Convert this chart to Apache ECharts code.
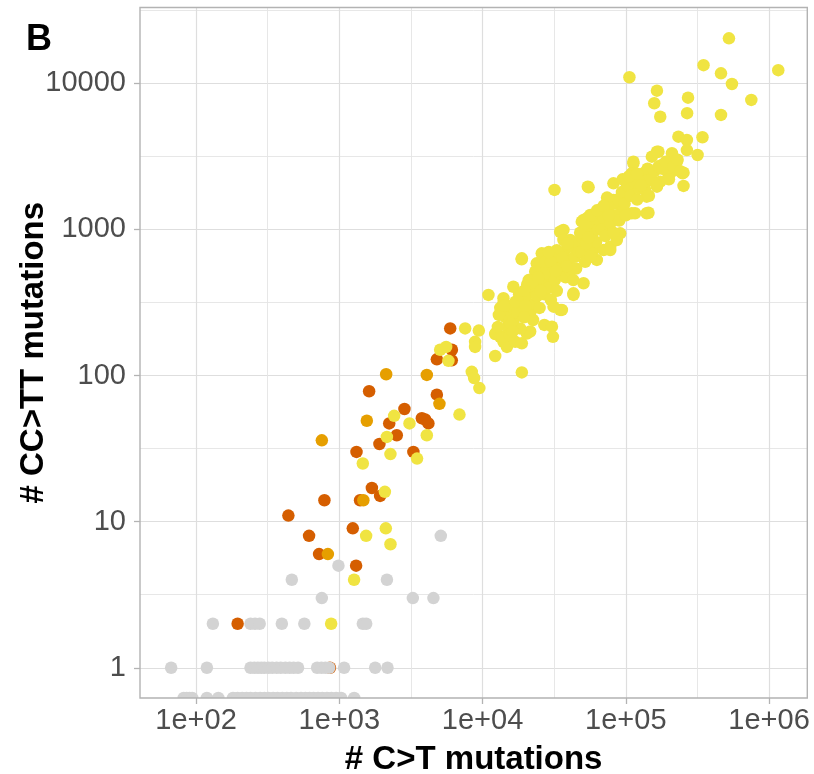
<!DOCTYPE html>
<html>
<head>
<meta charset="utf-8">
<script src="https://cdn.jsdelivr.net/npm/echarts@6/dist/echarts.min.js"></script>
<style>
html,body{margin:0;padding:0;background:#fff;}
#chart{width:814px;height:774px;}
</style>
</head>
<body>
<div id="chart"></div>
<script>
// ---- data ----
const panelLetter = 'B';
const xTitle = '# C>T mutations';
const yTitle = '# CC>TT mutations';
const xRange = [40.6, 1850000];
const yRange = [0.621, 33000];
const xTickValues = [1e2, 1e3, 1e4, 1e5, 1e6];
const xTickLabels = ['1e+02', '1e+03', '1e+04', '1e+05', '1e+06'];
const yTickValues = [1, 10, 100, 1000, 10000];
const yTickLabels = ['1', '10', '100', '1000', '10000'];

// points with y = 0 are squished to the lower limit (as in the original)
const greyPoints = [
  [82,0],[86,0],[90,0],[94,0],[119,0],[143,0],[181,0],[195,0],[210,0],[225,0],[240,0],[260,0],[280,0],[300,0],[320,0],[345,0],[370,0],[400,0],[430,0],[460,0],[500,0],[540,0],[580,0],[620,0],[660,0],[710,0],[760,0],[820,0],[880,0],[950,0],[1030,0],[1270,0],
  [67,1],[119,1],[240,1],[255,1],[270,1],[285,1],[300,1],[320,1],[340,1],[365,1],[390,1],[420,1],[450,1],[480,1],[515,1],[700,1],[750,1],[800,1],[850,1],[1080,1],[1780,1],[2170,1],
  [131,2],[240,2],[258,2],[278,2],[397,2],[570,2],[1460,2],[1540,2],
  [755,3],[3260,3],[4540,3],
  [466,4],[2150,4],
  [986,5],
  [5110,8]
];
const darkOrangePoints = [
  [195,2],[860,1],[441,11],[615,8],[722,6],[1242,9],[1310,5],[787,14],[1396,14],[1928,15],[1688,17],
  [5945,210],[6110,150],[6100,127],[4797,129],[1615,78],[4797,74],[2850,59],[2230,47],[3770,51],[3975,50],[4190,47],
  [2518,39],[1906,34],[1318,30],[3290,30]
];
const orangePoints = [
  [832,6],[1472,14],[755,36],[2124,102],[4082,101],[5000,64],[1556,49]
];
const yellowPoints = [
  [877,2],[1268,4],[1539,8],[2112,9],[2276,7],[2080,16],[1459,25],[2275,29],[3490,27],[2148,38],[4082,39],[2415,53],[3090,47],[6900,54],
  [5058,150],[5570,157],[5780,126],[7558,210],[9419,203],[12250,192],[8870,170],[8870,157],[12250,136],[8410,106],[8730,96],[9500,82],
  [10990,356],[14000,315],[15420,262],[12400,196],[13280,184],[14000,170],[14790,157],[18800,105],[16900,170],[18800,166],[20400,194],[21500,200],
  [27000,222],[30500,216],[31000,184],
  [31800,1862],[54300,1960],[18750,624],[15600,267],[43100,356],[34800,281],[50700,428],[96400,1322],[144000,1300],[253000,1983],[113000,2831],[249000,2420],
  [525000,20300],[1160000,12300],[349000,13300],[462000,11700],[551000,9890],[752000,7690],[462000,6070],[106000,11000],[165000,8900],[158000,7300],[174000,5900],
  [272000,7970],[268000,6240],[233000,4310],[267000,4090],[267000,3490],[343000,4270],[317000,3230],
  [210000,3320],[227000,2905],[204000,2420],[169000,3400],[152000,3146],[179000,2760],[110000,2420],[133000,2420],[148000,2178],[165000,1960],
  [82000,2067],[107000,1960],[94000,1589],[71800,1430],[86600,1510],[110000,1290],[49300,1130],[62800,1290],[70000,991],[36700,991],[40900,846],
  [34800,686],[50700,846],[59500,722],[70000,722],[77900,762],[86600,846],[91400,940],[24500,556],[18800,634],[28100,451],[22700,451],[43100,365],
  [14000,338],[16400,405],[23900,586],[25900,686],[27400,513],[23300,513],[34800,964],[36700,846],[40900,803],[50700,1159],[56500,1255],[66200,1359],
  [91400,1469],[116000,1290],[140000,1290],[62800,618],[77900,722],[35800,281],[31300,296],[21500,267],
  [165000,3400],[253000,2444],[113000,2905],[140000,2483],[174000,2122],[199000,2355],[55000,1941],[140000,1675],[96400,1358],[66200,1222],[53400,1191],[82000,1589],
  [13300,290],[14500,250],[15000,215],[16000,300],[16500,240],[17500,270],[18300,210],[13800,185],[15500,190],[12800,215],
  [19000,300],[20000,340],[21000,260],[22000,390],[23000,310],[24000,350],[25000,290],[20500,420],[22500,240],[19500,250],
  [26000,420],[27000,360],[28000,500],[29000,400],[30000,330],[31000,560],[32000,450],[33000,380],[34000,620],[35000,500],[27500,600],[30500,650],
  [36000,560],[37000,700],[38000,470],[40000,620],[41000,520],[42000,760],[44000,650],[45000,540],[46000,820],[47000,700],[39000,800],[43000,450],
  [49000,700],[50000,880],[52000,600],[54000,1000],[56000,760],[58000,900],[60000,1100],[62000,820],[64000,1000],[66000,1150],[53000,800],[57000,650],
  [68000,1000],[70000,1200],[72000,900],[75000,1350],[78000,1100],[80000,1500],[84000,1250],[88000,1600],[90000,1150],[74000,1650],[82000,950],
  [94000,1800],[98000,1500],[102000,2000],[108000,1700],[115000,2100],[120000,1600],[124000,1900],[100000,1250],
  [130000,2300],[136000,1900],[142000,2600],[150000,2200],[158000,2500],[165000,2000],[170000,2700],[145000,1700],
  [180000,2600],[190000,2900],[200000,2200],[215000,2700],[230000,3000],[240000,2500],
  [13000,260],[14200,300],[15800,225],[17000,320],[16200,200],
  [18000,360],[19500,380],[21000,450],[23500,430],[25500,380],[24500,470],[20000,300],
  [30000,600],[33000,720],[36000,640],[38500,560],[32500,520],[29000,700],
  [48000,950],[52000,1100],[58000,1250],[63000,1350],[70000,1450],[76000,1250],[55000,880],
  [95000,2200],[105000,2300],[120000,2400],[128000,2000]
];

// ---- styling ----
const COLORS = { grey: '#d3d3d3', darkOrange: '#d55e00', orange: '#e69f00', yellow: '#f0e442' };
const FONT = '"Liberation Sans", Arial, Helvetica, sans-serif';
const lg = v => Math.log10(v);
const xMin = lg(xRange[0]), xMax = lg(xRange[1]);
const yMin = lg(yRange[0]), yMax = lg(yRange[1]);
const toPlot = pts => pts.map(p => [lg(p[0]), p[1] > 0 ? Math.max(lg(p[1]), yMin) : yMin]);

const xMajor = xTickValues.map(lg);
const yMajor = yTickValues.map(lg);
const xMinor = xMajor.concat([xMajor[xMajor.length - 1] + 1]).map(v => v - 0.5).filter(v => v > xMin && v < xMax);
const yMinor = yMajor.concat([yMajor[yMajor.length - 1] + 1]).map(v => v - 0.5).filter(v => v > yMin && v < yMax);

const chart = echarts.init(document.getElementById('chart'), null, { renderer: 'canvas' });

function baseAxis(min, max) {
  return { type: 'value', min: min, max: max, scale: true, axisLine: { show: false, onZero: false } };
}
const labelStyle = { color: '#4d4d4d', fontSize: 29, fontFamily: FONT };
const nameStyle = { fontSize: 33, fontWeight: 'bold', color: '#000', fontFamily: FONT };

const option = {
  animation: false,
  backgroundColor: '#ffffff',
  title: {
    text: panelLetter, left: 26, top: 22, padding: 0,
    textStyle: { fontSize: 36, fontWeight: 'bold', color: '#000', fontFamily: FONT }
  },
  grid: { left: 140, right: 6.7, top: 7.5, bottom: 76, show: false, containLabel: false, outerBoundsMode: 'none' },
  xAxis: [
    Object.assign(baseAxis(xMin, xMax), {
      z: 6,
      name: xTitle, nameLocation: 'middle', nameGap: 45, nameMoveOverlap: false,
      nameTextStyle: nameStyle,
      axisTick: { show: true, length: 6, customValues: xMajor, lineStyle: { color: '#b3b3b3', width: 1.3 } },
      axisLabel: Object.assign({ margin: 8, customValues: xMajor,
        formatter: v => xTickLabels[xMajor.findIndex(t => Math.abs(t - v) < 1e-6)] }, labelStyle),
      splitLine: { show: false }
    }),
    Object.assign(baseAxis(xMin, xMax), {
      z: 0,
      axisTick: { show: false, customValues: xMajor }, axisLabel: { show: false },
      splitLine: { show: true, lineStyle: { color: '#dedede', width: 1.2 } }
    }),
    Object.assign(baseAxis(xMin, xMax), {
      z: 0,
      axisTick: { show: false, customValues: xMinor }, axisLabel: { show: false },
      splitLine: { show: true, lineStyle: { color: '#e4e4e4', width: 0.9 } }
    })
  ],
  yAxis: [
    Object.assign(baseAxis(yMin, yMax), {
      z: 6,
      name: yTitle, nameLocation: 'middle', nameGap: 90, nameMoveOverlap: false,
      nameTextStyle: nameStyle,
      axisTick: { show: true, length: 6, customValues: yMajor, lineStyle: { color: '#b3b3b3', width: 1.3 } },
      axisLabel: Object.assign({ margin: 14, customValues: yMajor,
        formatter: v => yTickLabels[yMajor.findIndex(t => Math.abs(t - v) < 1e-6)] }, labelStyle),
      splitLine: { show: false }
    }),
    Object.assign(baseAxis(yMin, yMax), {
      z: 0,
      axisTick: { show: false, customValues: yMajor }, axisLabel: { show: false },
      splitLine: { show: true, lineStyle: { color: '#dedede', width: 1.2 } }
    }),
    Object.assign(baseAxis(yMin, yMax), {
      z: 0,
      axisTick: { show: false, customValues: yMinor }, axisLabel: { show: false },
      splitLine: { show: true, lineStyle: { color: '#e4e4e4', width: 0.9 } }
    })
  ],
  series: [
    { name: 'darkOrange', data: toPlot(darkOrangePoints), color: COLORS.darkOrange },
    { name: 'orange', data: toPlot(orangePoints), color: COLORS.orange },
    { name: 'yellow', data: toPlot(yellowPoints), color: COLORS.yellow },
    { name: 'grey', data: toPlot(greyPoints), color: COLORS.grey }
  ].map(s => ({
    type: 'scatter', name: s.name, data: s.data, xAxisIndex: 0, yAxisIndex: 0,
    symbol: 'circle', symbolSize: 12.5, clip: false, z: 2,
    itemStyle: { color: s.color, opacity: 1 }
  }))
};
chart.setOption(option);

// panel border and clipping of the points that sit on the lower limit
const bl = chart.convertToPixel({ gridIndex: 0 }, [xMin, yMin]);
const tr = chart.convertToPixel({ gridIndex: 0 }, [xMax, yMax]);
chart.setOption({
  graphic: [
    { type: 'rect', z: 4, silent: true,
      shape: { x: bl[0] - 10, y: bl[1], width: tr[0] - bl[0] + 20, height: 10 },
      style: { fill: '#ffffff' } },
    { type: 'rect', z: 7, silent: true,
      shape: { x: bl[0], y: tr[1], width: tr[0] - bl[0], height: bl[1] - tr[1] },
      style: { fill: 'none', stroke: '#b3b3b3', lineWidth: 1.4 } }
  ]
});
</script>
</body>
</html>
